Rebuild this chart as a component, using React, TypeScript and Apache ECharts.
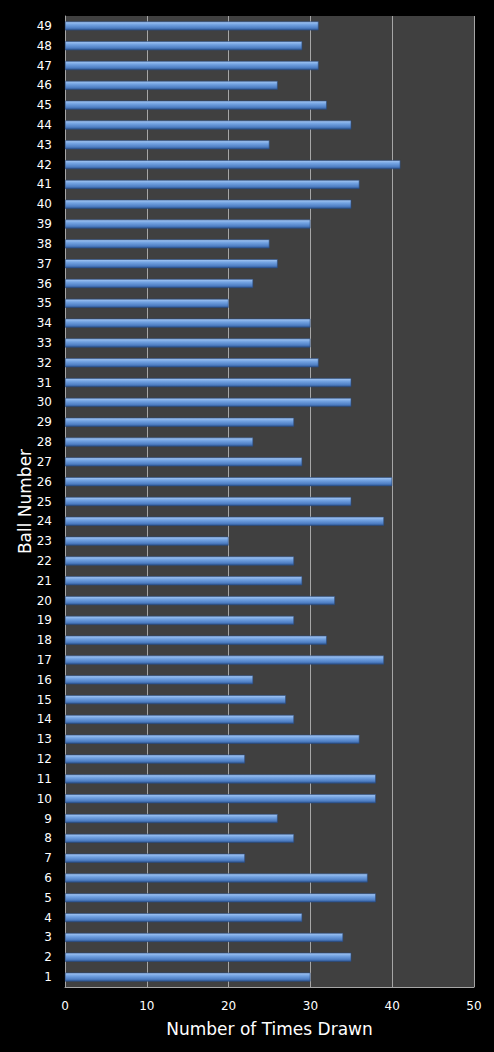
import { useEffect, useRef } from 'react';
import * as echarts from 'echarts';

// ball numbers, bottom to top
const balls = Array.from({ length: 49 }, (_, i) => String(i + 1));

// times drawn for ball 1..49
const timesDrawn = [
  30, 35, 34, 29, 38, 37, 22, 28, 26, 38,
  38, 22, 36, 28, 27, 23, 39, 32, 28, 33,
  29, 28, 20, 39, 35, 40, 29, 23, 28, 35,
  35, 31, 30, 30, 20, 23, 26, 25, 30, 35,
  36, 41, 25, 35, 32, 26, 31, 29, 31,
];

export default function App() {
  const chartRef = useRef<HTMLDivElement>(null);

  useEffect(() => {
    document.body.style.margin = '0';
    document.body.style.background = '#000';
    if (!chartRef.current) return;

    const chart = echarts.init(chartRef.current, null, { renderer: 'svg' });
    const font = 'DejaVu Sans, Verdana, sans-serif';

    chart.setOption({
      animation: false,
      backgroundColor: '#000000',
      grid: {
        left: 65,
        right: 20,
        top: 16,
        bottom: 65,
        show: true,
        backgroundColor: '#404040',
        borderWidth: 0,
      },
      xAxis: {
        type: 'value',
        min: 0,
        max: 50,
        interval: 10,
        name: 'Number of Times Drawn',
        nameLocation: 'middle',
        nameGap: 33,
        nameMoveOverlap: false,
        nameTextStyle: { color: '#ffffff', fontSize: 17, fontFamily: font },
        axisLine: { show: true, lineStyle: { color: '#a6a6a6', width: 1 } },
        axisTick: { show: false },
        axisLabel: { color: '#ffffff', fontSize: 12, fontFamily: font, margin: 13 },
        splitLine: { show: true, lineStyle: { color: '#a6a6a6', width: 1 } },
      },
      yAxis: {
        type: 'category',
        data: balls,
        name: 'Ball Number',
        nameLocation: 'middle',
        nameGap: 32,
        nameMoveOverlap: false,
        nameTextStyle: { color: '#ffffff', fontSize: 17, fontFamily: font },
        axisLine: { show: true, lineStyle: { color: '#a6a6a6', width: 1 } },
        axisTick: { show: false },
        axisLabel: { color: '#ffffff', fontSize: 12, fontFamily: font, margin: 13, interval: 0 },
        splitLine: { show: false },
      },
      series: [
        {
          type: 'bar',
          data: timesDrawn,
          barWidth: 9,
          itemStyle: {
            color: new echarts.graphic.LinearGradient(0, 0, 0, 1, [
              { offset: 0, color: '#a6c8f4' },
              { offset: 0.35, color: '#73a3e2' },
              { offset: 0.75, color: '#4f7fc4' },
              { offset: 1, color: '#2c5490' },
            ]),
            borderColor: '#2a4c80',
            borderWidth: 0.6,
          },
        },
      ],
    });

    return () => {
      chart.dispose();
    };
  }, []);

  return <div ref={chartRef} style={{ width: '494px', height: '1052px' }} />;
}
